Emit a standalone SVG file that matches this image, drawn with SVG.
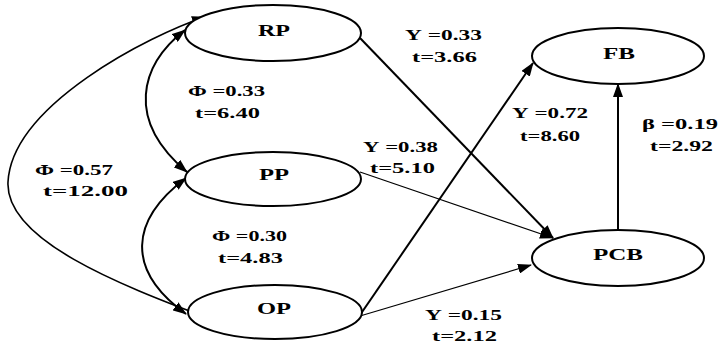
<svg xmlns="http://www.w3.org/2000/svg" width="720" height="346" viewBox="0 0 720 346">
<style>
.node{fill:#fff;stroke:#000;stroke-width:2}
.nl{font-family:"Liberation Serif","Times New Roman",serif;font-weight:bold;font-size:16px;fill:#000}
.lb{font-family:"Liberation Serif","Times New Roman",serif;font-weight:bold;font-size:15px;fill:#000}
.thick{fill:none;stroke:#000;stroke-width:2}
.mid{fill:none;stroke:#000;stroke-width:1.6}
.thin{fill:none;stroke:#000;stroke-width:1.2}
</style>
<defs>
<marker id="ah" markerUnits="userSpaceOnUse" markerWidth="14" markerHeight="10" refX="13" refY="5" orient="auto-start-reverse">
<path d="M0,0 L14,5 L0,10 Z" fill="#000"/>
</marker>
</defs>
<g id="connectors">
<path class="mid" d="M205,17 C150,35 12,105 8,182 C5,240 120,285 208,318" marker-start="url(#ah)" marker-end="url(#ah)"/>
<path class="thick" d="M185,30 C140,65 125,120 187,172" marker-start="url(#ah)" marker-end="url(#ah)"/>
<path class="thick" d="M186,178 C130,220 125,270 186,314" marker-start="url(#ah)" marker-end="url(#ah)"/>
<path class="thick" d="M360,38 L553,238" marker-end="url(#ah)"/>
<path class="thin" d="M360,172 L553,238" marker-end="url(#ah)"/>
<path class="thick" d="M360,315 L533,63" marker-end="url(#ah)"/>
<path class="thin" d="M360,316 L531,265" marker-end="url(#ah)"/>
<path class="thick" d="M618,230 L618,84" marker-end="url(#ah)"/>
</g>
<g id="RP"><ellipse class="node" cx="273" cy="33" rx="88" ry="28"/><text class="nl" x="258" y="36" textLength="32" lengthAdjust="spacingAndGlyphs">RP</text></g>
<g id="PP"><ellipse class="node" cx="273" cy="179" rx="88" ry="27"/><text class="nl" x="259" y="180" textLength="30" lengthAdjust="spacingAndGlyphs">PP</text></g>
<g id="OP"><ellipse class="node" cx="275" cy="312" rx="87" ry="27"/><text class="nl" x="257" y="314" textLength="34" lengthAdjust="spacingAndGlyphs">OP</text></g>
<g id="FB"><ellipse class="node" cx="618" cy="56" rx="86" ry="28"/><text class="nl" x="603" y="59" textLength="32" lengthAdjust="spacingAndGlyphs">FB</text></g>
<g id="PCB"><ellipse class="node" cx="618" cy="258" rx="86" ry="28"/><text class="nl" x="593" y="260" textLength="50" lengthAdjust="spacingAndGlyphs">PCB</text></g>
<g id="labels">
<text class="lb" x="188" y="96" textLength="77" lengthAdjust="spacingAndGlyphs">Φ =0.33</text>
<text class="lb" x="195" y="118" textLength="65" lengthAdjust="spacingAndGlyphs">t=6.40</text>
<text class="lb" x="35" y="175" textLength="78" lengthAdjust="spacingAndGlyphs">Φ =0.57</text>
<text class="lb" x="43" y="196" textLength="85" lengthAdjust="spacingAndGlyphs">t=12.00</text>
<text class="lb" x="212" y="241" textLength="75" lengthAdjust="spacingAndGlyphs">Φ =0.30</text>
<text class="lb" x="218" y="263" textLength="65" lengthAdjust="spacingAndGlyphs">t=4.83</text>
<text class="lb" x="405" y="40" textLength="77" lengthAdjust="spacingAndGlyphs">Υ =0.33</text>
<text class="lb" x="412" y="62" textLength="65" lengthAdjust="spacingAndGlyphs">t=3.66</text>
<text class="lb" x="363" y="152" textLength="75" lengthAdjust="spacingAndGlyphs">Υ =0.38</text>
<text class="lb" x="370" y="173" textLength="65" lengthAdjust="spacingAndGlyphs">t=5.10</text>
<text class="lb" x="512" y="118" textLength="76" lengthAdjust="spacingAndGlyphs">Υ =0.72</text>
<text class="lb" x="520" y="141" textLength="60" lengthAdjust="spacingAndGlyphs">t=8.60</text>
<text class="lb" x="642" y="129" textLength="76" lengthAdjust="spacingAndGlyphs">β =0.19</text>
<text class="lb" x="650" y="151" textLength="63" lengthAdjust="spacingAndGlyphs">t=2.92</text>
<text class="lb" x="425" y="320" textLength="77" lengthAdjust="spacingAndGlyphs">Υ =0.15</text>
<text class="lb" x="432" y="341" textLength="65" lengthAdjust="spacingAndGlyphs">t=2.12</text>
</g>
</svg>
